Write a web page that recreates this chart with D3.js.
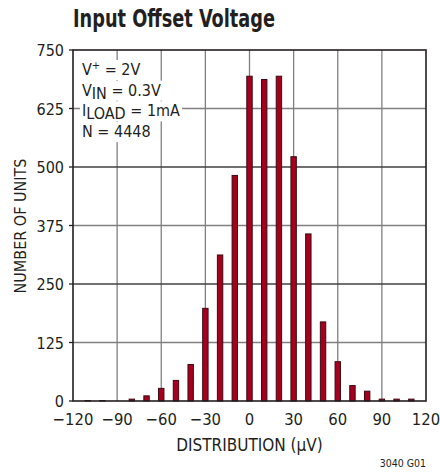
<!DOCTYPE html>
<html>
<head>
<meta charset="utf-8">
<script src="https://cdn.jsdelivr.net/npm/d3@7"></script>
<style>
  body { margin: 0; background: #fff; }
  text { font-family: "Liberation Sans Narrow", "DejaVu Sans Condensed", "Liberation Sans", sans-serif; fill: #231f20; }
</style>
</head>
<body>
<script>
// histogram bins (µV) and counts
var bins = [-110, -100, -90, -80, -70, -60, -50, -40, -30, -20, -10, 0, 10, 20, 30, 40, 50, 60, 70, 80, 90, 100, 110]
var counts = [1, 1, 0, 4, 11, 27, 44, 78, 198, 312, 482, 694, 687, 694, 522, 357, 169, 84, 33, 21, 4, 4, 4]
var xTicks = [-120, -90, -60, -30, 0, 30, 60, 90, 120]
var yTicks = [0, 125, 250, 375, 500, 625, 750]
var xTickLabels = ["\u2212120", "\u221290", "\u221260", "\u221230", "0", "30", "60", "90", "120"]

var svg = d3.select("body").append("svg")
    .attr("width", 440)
    .attr("height", 474)

var pLeft = 73, pRight = 426, pTop = 50, pBottom = 401

var x = d3.scaleLinear().domain([-120, 120]).range([pLeft, pRight])
var y = d3.scaleLinear().domain([0, 750]).range([pBottom, pTop])

// title (condensed bold in the original)
svg.append("text")
  .attr("x", 73).attr("y", 27)
  .text("Input Offset Voltage")
  .attr("font-size", "25px")
  .attr("font-weight", "bold")
  .attr("textLength", 202)
  .attr("lengthAdjust", "spacingAndGlyphs")

// grid
var grid = svg.append("g")
grid.selectAll(".vgrid")
  .data(xTicks.slice(1, -1))
  .enter().append("line")
  .attr("x1", d => x(d)).attr("x2", d => x(d))
  .attr("y1", pTop).attr("y2", pBottom)
  .style("stroke", "#808080").style("stroke-width", 1.3)
grid.selectAll(".hgrid")
  .data(yTicks.slice(1, -1))
  .enter().append("line")
  .attr("x1", pLeft).attr("x2", pRight)
  .attr("y1", d => y(d)).attr("y2", d => y(d))
  .style("stroke", d => d % 250 == 0 ? "#404040" : "#808080")
  .style("stroke-width", 1.3)

// bars
svg.append("g").selectAll("rect")
  .data(bins)
  .enter().append("rect")
  .attr("x", d => x(d) - 2.7)
  .attr("width", 5.4)
  .attr("y", (d, i) => y(counts[i]))
  .attr("height", (d, i) => pBottom - y(counts[i]))
  .style("fill", "#a6001f")
  .style("stroke", "#3b0a12")
  .style("stroke-width", 1)

// legend text with white backing
var legendBg = svg.append("g")
var legend = svg.append("g")
var lines = [
  [["V", 0], ["+", 1], [" = 2V", 0]],
  [["V", 0], ["IN", -1], [" = 0.3V", 0]],
  [["I", 0], ["LOAD", -1], [" = 1mA", 0]],
  [["N = 4448", 0]]
]
lines.forEach(function(parts, i) {
  var yy = 75 + i * 20.7
  var t = legend.append("text").attr("x", 82).attr("y", yy).attr("font-size", "16px")
  parts.forEach(function(p) {
    var ts = t.append("tspan").text(p[0])
    if (p[1] == 1) ts.attr("baseline-shift", "super").attr("font-size", "11px")
    if (p[1] == -1) ts.attr("baseline-shift", "-3")
  })
  var bb = t.node().getBBox()
  legendBg.append("rect").style("fill", "white")
    .attr("x", bb.x - 2).attr("y", yy - 15).attr("width", bb.width + 4).attr("height", 20)
})

// frame
svg.append("rect")
  .attr("x", pLeft).attr("y", pTop)
  .attr("width", pRight - pLeft).attr("height", pBottom - pTop)
  .style("fill", "none").style("stroke", "#231f20").style("stroke-width", 1.6)

// y ticks and labels
svg.selectAll(".ytick")
  .data(yTicks)
  .enter().append("line")
  .attr("x1", pLeft - 4).attr("x2", pLeft)
  .attr("y1", d => y(d)).attr("y2", d => y(d))
  .style("stroke", "#231f20").style("stroke-width", 1.3)
svg.selectAll(".ylab")
  .data(yTicks)
  .enter().append("text")
  .attr("x", 64).attr("y", d => y(d) + 6)
  .attr("text-anchor", "end")
  .attr("font-size", "16px")
  .text(d => d)

// x labels
svg.selectAll(".xlab")
  .data(xTicks)
  .enter().append("text")
  .attr("x", d => x(d)).attr("y", 425)
  .attr("text-anchor", "middle")
  .attr("font-size", "16.5px")
  .text((d, i) => xTickLabels[i])

// axis titles
svg.append("text")
  .attr("x", x(0)).attr("y", 451)
  .attr("text-anchor", "middle")
  .attr("font-size", "17px")
  .text("DISTRIBUTION (\u00b5V)")
svg.append("text")
  .attr("transform", "translate(26,226) rotate(-90)")
  .attr("text-anchor", "middle")
  .attr("font-size", "16px")
  .text("NUMBER OF UNITS")

svg.append("text")
  .attr("x", 426).attr("y", 467)
  .attr("text-anchor", "end")
  .attr("font-size", "10.5px")
  .text("3040 G01")
</script>
</body>
</html>
